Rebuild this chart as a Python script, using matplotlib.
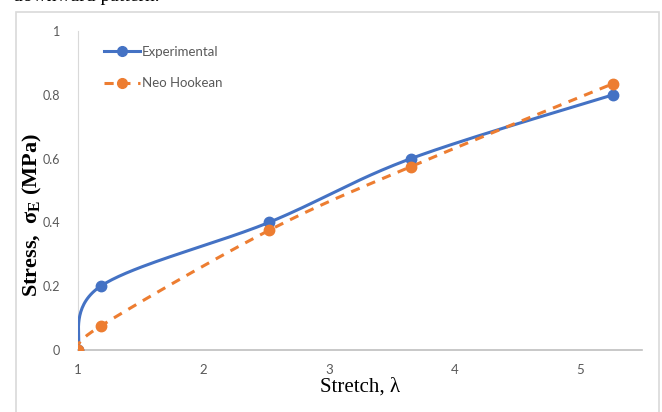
import numpy as np
import matplotlib
matplotlib.use("Agg")
import matplotlib.pyplot as plt
from matplotlib.patches import Rectangle

# Data
exp_x = [1.0, 1.18, 2.52, 3.65, 5.26]
exp_y = [0.0, 0.20, 0.40, 0.60, 0.80]
neo_x = [1.0, 1.18, 2.52, 3.65, 5.26]
neo_y = [0.0, 0.075, 0.375, 0.575, 0.835]
xticks = [1, 2, 3, 4, 5]
yticks = [0, 0.2, 0.4, 0.6, 0.8, 1]
ytick_labels = ["0", "0.2", "0.4", "0.6", "0.8", "1"]

BLUE = "#4472C4"
ORANGE = "#ED7D31"
TICKFONT = ["Liberation Sans Narrow", "Lato", "DejaVu Sans"]
SERIF = ["Liberation Serif", "DejaVu Serif"]

W, H = 662, 412
fig = plt.figure(figsize=(W / 100, H / 100), dpi=100)
ax = fig.add_axes([78 / W, 1 - 350 / H, (642 - 78) / W, (350 - 31) / H])
xmin, xmax = 1.0, 5.49
ax.set_xlim(xmin, xmax)
ax.set_ylim(0, 1)

sx = 125.75
sy = 319.0


def smooth(xs, ys, n=40):
    # Catmull-Rom style (Excel-like) smoothing in scaled coordinates
    P = np.column_stack([np.array(xs) * sx, np.array(ys) * sy])
    out = []
    m = len(P)
    for i in range(m - 1):
        p0 = P[i - 1] if i > 0 else P[i]
        p1 = P[i]
        p2 = P[i + 1]
        p3 = P[i + 2] if i + 2 < m else P[i + 1]
        c1 = p1 + (p2 - p0) / 6.0
        c2 = p2 - (p3 - p1) / 6.0
        t = np.linspace(0, 1, n)[:, None]
        seg = ((1 - t) ** 3) * p1 + 3 * ((1 - t) ** 2) * t * c1 + 3 * (1 - t) * t ** 2 * c2 + t ** 3 * p2
        out.append(seg if i == 0 else seg[1:])
    out = np.vstack(out)
    return out[:, 0] / sx, out[:, 1] / sy


ex, ey = smooth(exp_x, exp_y)
nx, ny = smooth(neo_x, neo_y)

ax.plot(ex, ey, color=BLUE, lw=2.2, zorder=3, solid_capstyle="round")
ax.plot(exp_x, exp_y, "o", color=BLUE, ms=7.5, zorder=4)
ax.plot(nx, ny, color=ORANGE, lw=2.2, ls=(0, (3, 2.5)), zorder=3)
ax.plot(neo_x, neo_y, "o", color=ORANGE, ms=7.5, zorder=4)

# legend handles
ax.plot([], [], "-o", color=BLUE, lw=2.2, ms=7, label="Experimental")
ax.plot([], [], "o", color=ORANGE, lw=2.2, ls=(0, (3, 2.5)), ms=7, label="Neo Hookean")
leg = ax.legend(loc="upper left", bbox_to_anchor=(0.025, 0.99), frameon=False,
                prop={"family": TICKFONT, "size": 9.5}, labelcolor="#595959",
                handlelength=2.7, labelspacing=1.45, handletextpad=0.2)

for s in ["top", "right"]:
    ax.spines[s].set_visible(False)
ax.spines["left"].set_color("#D9D9D9")
ax.spines["bottom"].set_color("#BFBFBF")
ax.spines["bottom"].set_linewidth(1.2)
ax.set_xticks(xticks)
ax.set_xticklabels([str(v) for v in xticks], family=TICKFONT, fontsize=9.5, color="#595959")
ax.set_yticks(yticks)
ax.set_yticklabels(ytick_labels, family=TICKFONT, fontsize=9, color="#595959")
ax.tick_params(axis="x", length=0, pad=10)
ax.tick_params(axis="y", length=0, pad=13)

ax.set_xlabel("Stretch, λ", family=SERIF, fontsize=15)
ax.xaxis.set_label_coords(0.5, -0.085)
ax.set_ylabel("Stress,  σ$_\\mathregular{E}$ (MPa)", family=SERIF, fontsize=16,
              fontweight="bold")
ax.yaxis.set_label_coords(-(78 - 44) / (642 - 78), (350 - 215) / (350 - 31))

# outer chart frame
fig.patches.append(Rectangle((16 / W, -0.01), (659 - 16) / W, 1 - 12 / H + 0.01,
                             transform=fig.transFigure, fill=False,
                             edgecolor="#D9D9D9", lw=1.2))
# cropped text above chart
fig.text(13 / W, 1 - 1.0 / H, "downward pattern.", family=SERIF, fontsize=14,
         va="baseline", ha="left")

fig.savefig("out.png", dpi=100)
